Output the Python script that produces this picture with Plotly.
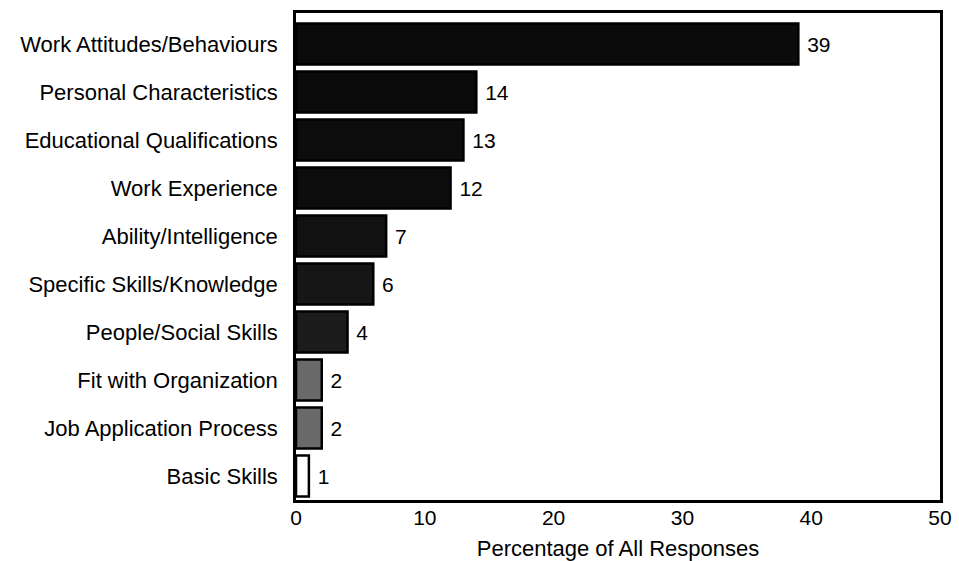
import plotly.graph_objects as go

categories = [
    "Work Attitudes/Behaviours",
    "Personal Characteristics",
    "Educational Qualifications",
    "Work Experience",
    "Ability/Intelligence",
    "Specific Skills/Knowledge",
    "People/Social Skills",
    "Fit with Organization",
    "Job Application Process",
    "Basic Skills",
]
values = [39, 14, 13, 12, 7, 6, 4, 2, 2, 1]
bar_colors = ["#0b0b0b", "#0b0b0b", "#0d0d0d", "#0d0d0d", "#111111",
              "#161616", "#1c1c1c", "#6a6a6a", "#6a6a6a", "#ffffff"]
x_ticks = [0, 10, 20, 30, 40, 50]

FONT = "Liberation Sans, Arial, Helvetica, sans-serif"

fig = go.Figure(go.Bar(
    x=values,
    y=list(range(len(categories))),
    orientation="h",
    width=0.85,
    marker=dict(color=bar_colors, line=dict(color="#000000", width=2.5)),
    texttemplate=" %{x}",
    textposition="outside",
    textfont=dict(family=FONT, size=21, color="#000000"),
    cliponaxis=False,
))

fig.update_layout(
    width=959, height=561,
    margin=dict(l=296, r=19, t=13, b=61, autoexpand=False),
    paper_bgcolor="white", plot_bgcolor="white",
    font=dict(family=FONT, size=21, color="#000000"),
    showlegend=False,
    xaxis=dict(
        range=[0, 50], tickvals=x_ticks, ticktext=[str(t) for t in x_ticks],
        tickfont=dict(size=21), automargin=False,
        showgrid=False, zeroline=False, showline=True, linecolor="#000000",
        linewidth=2.5, mirror=True, ticks="", ticklabelstandoff=-3,
        title=dict(text="Percentage of All Responses", standoff=19,
                   font=dict(size=22)),
    ),
    yaxis=dict(
        range=[9.5, -0.646], automargin=False,
        tickvals=list(range(len(categories))), ticktext=categories,
        tickfont=dict(size=22),
        showgrid=False, zeroline=False, showline=True, linecolor="#000000",
        linewidth=2.5, mirror=True, ticks="", ticklabelstandoff=11,
    ),
)

fig.write_html("out.html")
